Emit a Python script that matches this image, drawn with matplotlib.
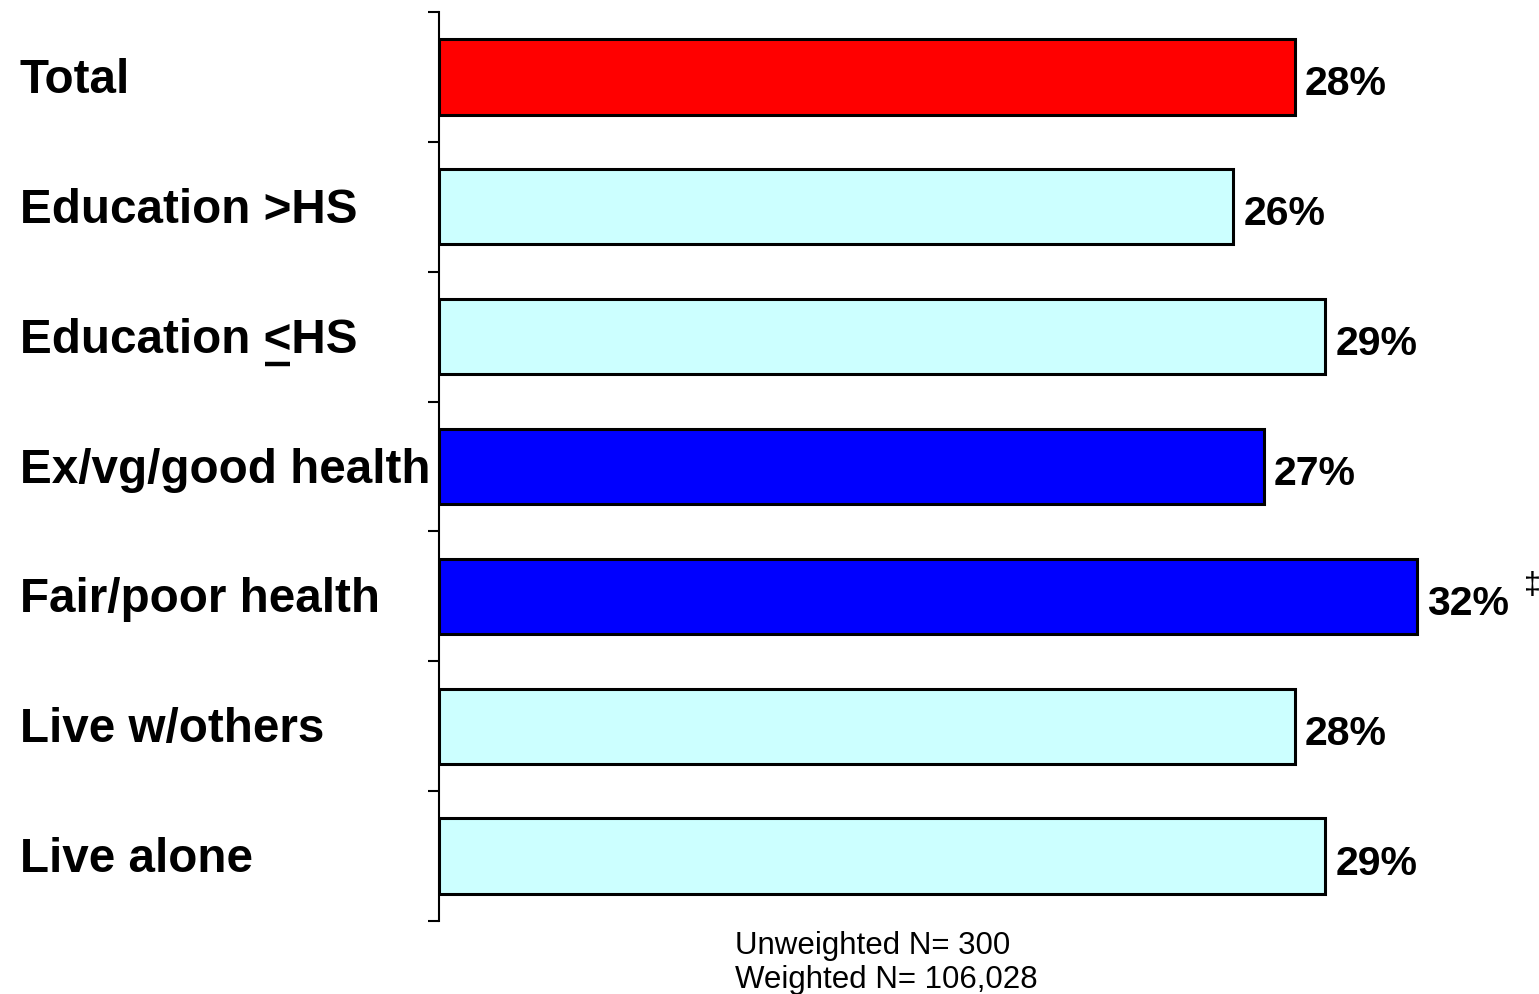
import numpy as np
import matplotlib.pyplot as plt
from matplotlib.lines import Line2D
from matplotlib.transforms import blended_transform_factory

plt.rcParams['font.family'] = ['Liberation Sans', 'DejaVu Sans']

categories = ['Total', 'Education >HS', 'Education <HS', 'Ex/vg/good health',
              'Fair/poor health', 'Live w/others', 'Live alone']
values = [28, 26, 29, 27, 32, 28, 29]
value_labels = ['28%', '26%', '29%', '27%', '32%', '28%', '29%']
colors = ['#FF0000', '#CCFFFF', '#CCFFFF', '#0000FF', '#0000FF', '#CCFFFF', '#CCFFFF']
footnote = ['Unweighted N= 300', 'Weighted N= 106,028']

W, H = 1539, 995
fig = plt.figure(figsize=(W / 100, H / 100), dpi=100)
ax = fig.add_axes([439 / W, 1 - 922 / H, 1 - 439 / W, (922 - 13) / H])

y = np.arange(len(categories))
ax.barh(y, values, height=0.58, color=colors, edgecolor='black', linewidth=2.2)

ax.set_xlim(0, 36.0)
ax.set_ylim(len(categories) - 0.5, -0.5)
for s in ['top', 'right', 'bottom']:
    ax.spines[s].set_visible(False)
ax.spines['left'].set_linewidth(1.5)
ax.set_xticks([])
ax.set_yticks(np.arange(len(categories) + 1) - 0.5)
ax.set_yticklabels([])
ax.tick_params(axis='y', length=8, width=1.5, direction='out')

# category labels sit at a fixed figure x, bar centre in data y
lab_tr = blended_transform_factory(fig.transFigure, ax.transData)
cat_texts = []
for i, (v, lab) in enumerate(zip(values, value_labels)):
    ax.text(v + 0.33, i + 0.05, lab, fontsize=29.5, fontweight='bold', va='center', ha='left')
    t = ax.text(20 / W, i + 0.02, categories[i], fontsize=34.3, fontweight='bold',
                va='center', ha='left', transform=lab_tr)
    cat_texts.append(t)

# underline the "<" of "Education <HS" (it means less-or-equal)
fig.canvas.draw()
r = fig.canvas.get_renderer()
probe = fig.text(0, 0, 'Education <', fontsize=34.3, fontweight='bold')
probe2 = fig.text(0, 0, '<', fontsize=34.3, fontweight='bold')
x_end = 20 + probe.get_window_extent(r).width
x_start = x_end - probe2.get_window_extent(r).width
probe.remove()
probe2.remove()
fig.add_artist(Line2D([(x_start + 1) / W, (x_end - 1) / W], [1 - 365 / H, 1 - 365 / H],
                      transform=fig.transFigure, color='black', linewidth=3.2,
                      solid_capstyle='butt'))

# significance mark next to fair/poor health
ax.text(values[4] + 3.5, 4 - 0.09, '\u2021', fontsize=22, va='center', ha='left')

fig.text(735 / W, 1 - 946 / H, footnote[0], fontsize=22.5, va='center', ha='left')
fig.text(735 / W, 1 - 980 / H, footnote[1], fontsize=22.5, va='center', ha='left')

fig.savefig('out.png', dpi=100)
plt.close(fig)
